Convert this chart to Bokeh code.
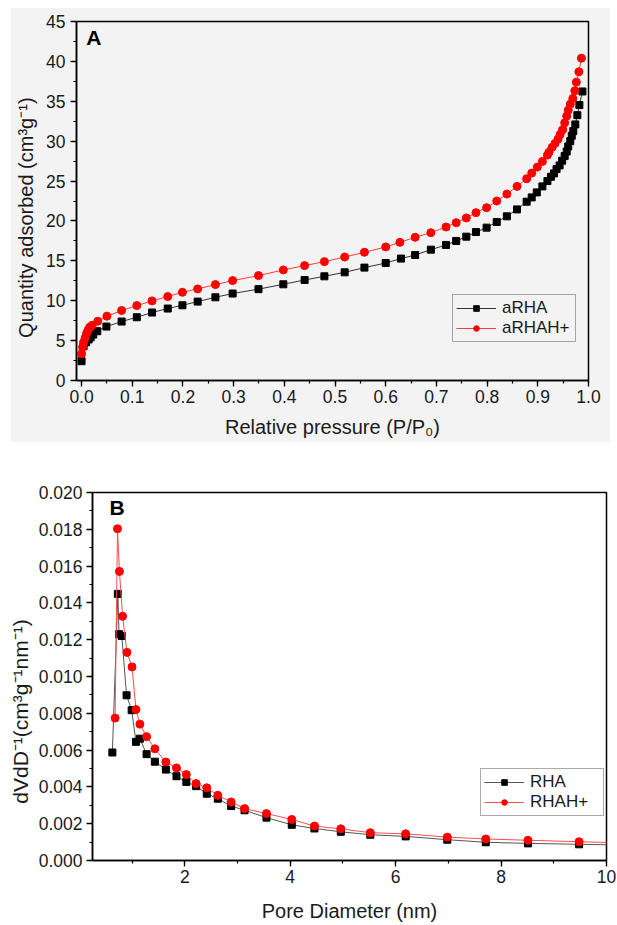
from bokeh.plotting import figure
from bokeh.models import (Label, Legend, LegendItem, SingleIntervalTicker,
                          PrintfTickFormatter, Range1d)
from bokeh.embed import file_html
from bokeh.resources import INLINE

FONT = "Liberation Sans"

# ---------------- Panel A data: N2 isotherms ----------------
arha_p = [0.0, 0.004, 0.009, 0.014, 0.018, 0.023, 0.031, 0.049, 0.079, 0.109,
          0.139, 0.170, 0.199, 0.229, 0.264, 0.298, 0.349, 0.398, 0.440, 0.479,
          0.519, 0.558, 0.600, 0.630, 0.658, 0.689, 0.719, 0.739, 0.759, 0.778,
          0.799, 0.819, 0.839, 0.859, 0.878, 0.888, 0.898, 0.909, 0.919, 0.926,
          0.932, 0.937, 0.943, 0.948, 0.953, 0.957, 0.960, 0.964, 0.967, 0.970,
          0.974, 0.978, 0.982, 0.988]
arha_q = [2.42, 4.30, 4.80, 5.15, 5.42, 5.76, 6.18, 6.76, 7.39, 7.93,
          8.52, 9.02, 9.43, 9.89, 10.43, 10.90, 11.45, 12.06, 12.60, 13.06,
          13.56, 14.15, 14.73, 15.28, 15.73, 16.40, 16.99, 17.49, 18.03, 18.61,
          19.16, 19.87, 20.58, 21.45, 22.41, 22.95, 23.58, 24.33, 25.00, 25.54,
          25.96, 26.50, 26.96, 27.55, 28.13, 28.71, 29.34, 30.01, 30.68, 31.26,
          32.10, 33.26, 34.52, 36.23]

arhah_p = [0.0, 0.002, 0.004, 0.007, 0.010, 0.013, 0.016, 0.021, 0.032, 0.050,
           0.079, 0.109, 0.139, 0.170, 0.199, 0.229, 0.264, 0.298, 0.349, 0.398,
           0.440, 0.479, 0.519, 0.558, 0.600, 0.628, 0.658, 0.689, 0.719, 0.739,
           0.759, 0.778, 0.799, 0.819, 0.839, 0.859, 0.878, 0.888, 0.899, 0.909,
           0.919, 0.922, 0.928, 0.934, 0.940, 0.944, 0.949, 0.953, 0.957, 0.960,
           0.964, 0.969, 0.973, 0.976, 0.981, 0.986]
arhah_q = [3.34, 4.17, 4.80, 5.34, 5.93, 6.34, 6.68, 6.93, 7.43, 8.06,
           8.77, 9.39, 9.98, 10.52, 11.06, 11.48, 12.02, 12.52, 13.15, 13.86,
           14.40, 14.90, 15.48, 16.07, 16.74, 17.32, 17.95, 18.53, 19.24, 19.78,
           20.37, 21.04, 21.66, 22.50, 23.37, 24.33, 25.29, 26.00, 26.75, 27.46,
           28.26, 28.60, 29.22, 29.72, 30.26, 30.84, 31.43, 32.30, 33.14, 33.89,
           34.64, 35.35, 36.31, 37.40, 38.69, 40.40]

# ---------------- Panel B data: pore size distribution ----------------
rha_d = [0.627, 0.731, 0.754, 0.806, 0.896, 0.993, 1.075, 1.149, 1.276, 1.433,
         1.642, 1.843, 2.030, 2.216, 2.418, 2.627, 2.880, 3.134, 3.550, 4.030,
         4.460, 4.960, 5.520, 6.190, 6.980, 7.710, 8.510, 9.480, 10.500]
rha_v = [0.00587, 0.01449, 0.01230, 0.01220, 0.00898, 0.00817, 0.00645, 0.00662,
         0.00578, 0.00537, 0.00494, 0.00458, 0.00427, 0.00404, 0.00363, 0.00336,
         0.00296, 0.00273, 0.00233, 0.00194, 0.00174, 0.00156, 0.00140, 0.00131,
         0.00113, 0.00099, 0.00093, 0.00088, 0.00083]

rhah_d = [0.679, 0.724, 0.761, 0.821, 0.903, 1.000, 1.075, 1.149, 1.276, 1.433,
          1.642, 1.843, 2.030, 2.216, 2.418, 2.627, 2.880, 3.134, 3.550, 4.030,
          4.460, 4.960, 5.520, 6.190, 6.980, 7.710, 8.510, 9.480, 10.500]
rhah_v = [0.00774, 0.01803, 0.01571, 0.01327, 0.01131, 0.01052, 0.00820, 0.00741,
          0.00673, 0.00607, 0.00535, 0.00503, 0.00467, 0.00418, 0.00395, 0.00354,
          0.00318, 0.00282, 0.00255, 0.00223, 0.00187, 0.00172, 0.00151, 0.00145,
          0.00127, 0.00117, 0.00110, 0.00102, 0.00094]

NB = "\u00a0"


def style_axis(ax, interval, fmt, label):
    ax.ticker = SingleIntervalTicker(interval=interval, num_minor_ticks=2)
    ax.formatter = PrintfTickFormatter(format=fmt)
    ax.axis_label = label
    ax.axis_line_color = "black"
    ax.axis_line_width = 1.5
    ax.major_tick_in = 0
    ax.major_tick_out = 6
    ax.minor_tick_in = 0
    ax.minor_tick_out = 3
    ax.major_tick_line_width = 1.3
    ax.minor_tick_line_width = 1.2
    ax.major_tick_line_color = "black"
    ax.minor_tick_line_color = "black"
    ax.major_label_text_font = FONT
    ax.major_label_text_font_size = "17.5px"
    ax.major_label_text_color = "#1a1a1a"
    ax.axis_label_text_font = FONT
    ax.axis_label_text_font_size = "20px"
    ax.axis_label_text_font_style = "normal"
    ax.axis_label_text_color = "#1a1a1a"


def style_legend(lg, bg, alpha):
    lg.label_text_font = FONT
    lg.label_text_font_size = "17px"
    lg.label_text_color = "#1a1a1a"
    lg.glyph_width = 40
    lg.glyph_height = 14
    lg.label_height = 14
    lg.label_width = 70
    lg.label_standoff = 6
    lg.spacing = 0
    lg.padding = 3
    lg.margin = 0
    lg.border_line_color = "#555555"
    lg.border_line_width = 1
    lg.background_fill_color = bg
    lg.background_fill_alpha = alpha


# ---------------- Figure A ----------------
GRAY = "#f3f3f3"
p1 = figure(width=600, height=435, x_range=Range1d(-0.01, 1.0), y_range=Range1d(0, 45),
            output_backend="svg", toolbar_location=None,
            min_border_left=66, min_border_right=22, min_border_top=14, min_border_bottom=62,
            background_fill_color=GRAY, border_fill_color=GRAY,
            outline_line_color="black", outline_line_width=1.5)
p1.margin = (7, 7, 0, 10)
p1.xgrid.visible = False
p1.ygrid.visible = False
style_axis(p1.xaxis[0], 0.1, "%.1f", "Relative pressure (P/P\u2080)")
style_axis(p1.yaxis[0], 5, "%d", "Quantity adsorbed (cm\u00b3g\u207b\u00b9)" + NB * 6)
p1.xaxis[0].major_label_standoff = 3
p1.xaxis[0].axis_label_standoff = 10
p1.yaxis[0].major_label_standoff = 5
p1.yaxis[0].axis_label_standoff = 6

a_l = p1.line(arha_p, arha_q, line_color="#333333", line_width=1)
a_s = p1.scatter(arha_p, arha_q, marker="square", size=7, fill_color="black", line_color="black")
b_l = p1.line(arhah_p, arhah_q, line_color="#ff3b3b", line_width=1)
b_s = p1.scatter(arhah_p, arhah_q, marker="circle", size=8, fill_color="#ff0000", line_color="#ff0000")

lg1 = Legend(items=[LegendItem(label="aRHA", renderers=[a_l, a_s]),
                    LegendItem(label="aRHAH+", renderers=[b_l, b_s])],
             location=(376, 38))
style_legend(lg1, GRAY, 0.0)
p1.add_layout(lg1)

p1.add_layout(Label(x=0.009, y=43.0, text="A", text_font=FONT, text_font_style="bold",
                    text_font_size="21px", text_baseline="middle", text_align="left",
                    text_color="black"))

# ---------------- Figure B ----------------
p2 = figure(width=617, height=482, x_range=Range1d(0.25, 10), y_range=Range1d(0, 0.020),
            output_backend="svg", toolbar_location=None,
            min_border_left=92, min_border_right=11, min_border_top=50, min_border_bottom=64,
            background_fill_color="white", border_fill_color="white",
            outline_line_color="black", outline_line_width=1.5)
p2.xgrid.visible = False
p2.ygrid.visible = False
style_axis(p2.xaxis[0], 2, "%d", "Pore Diameter (nm)")
style_axis(p2.yaxis[0], 0.002, "%.3f",
           "dVdD\u207b\u00b9(cm\u00b3g\u207b\u00b9nm\u207b\u00b9)" + NB * 12)
p2.yaxis[0].axis_label_text_font_size = "21px"
p2.xaxis[0].major_label_standoff = 3
p2.xaxis[0].axis_label_standoff = 14
p2.yaxis[0].major_label_standoff = 4
p2.yaxis[0].axis_label_standoff = 4

c_l = p2.line(rha_d, rha_v, line_color="#555555", line_width=1)
c_s = p2.scatter(rha_d, rha_v, marker="square", size=7, fill_color="black", line_color="black")
d_l = p2.line(rhah_d, rhah_v, line_color="#ff4d4d", line_width=1)
d_s = p2.scatter(rhah_d, rhah_v, marker="circle", size=8, fill_color="#ff0000", line_color="#ff0000")

lg2 = Legend(items=[LegendItem(label="RHA", renderers=[c_l, c_s]),
                    LegendItem(label="RHAH+", renderers=[d_l, d_s])],
             location=(388, 44))
style_legend(lg2, "white", 1.0)
p2.add_layout(lg2)

p2.add_layout(Label(x=0.573, y=0.0192, text="B", text_font=FONT, text_font_style="bold",
                    text_font_size="21px", text_baseline="middle", text_align="left",
                    text_color="black"))

open("out.html", "w").write(file_html([p1, p2], INLINE))
